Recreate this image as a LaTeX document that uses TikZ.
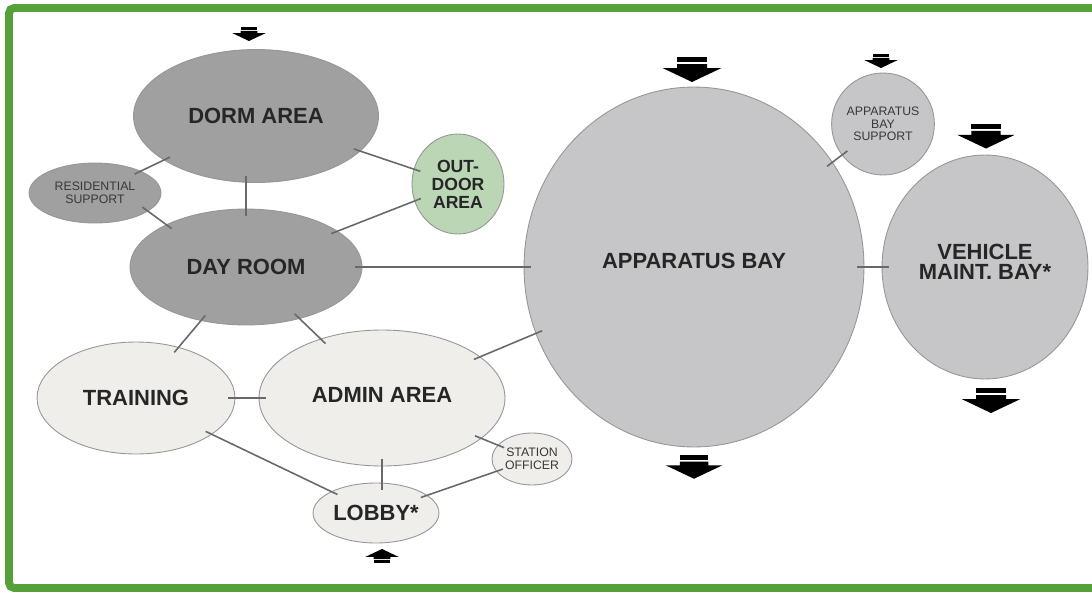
\documentclass[tikz,border=0pt]{standalone}
\usepackage{fontspec}
\setmainfont{Liberation Sans}
\usetikzlibrary{shapes.geometric}

\definecolor{framegreen}{RGB}{86,160,58}
\definecolor{darkroom}{RGB}{160,160,160}
\definecolor{bayroom}{RGB}{198,198,200}
\definecolor{outroom}{RGB}{186,214,180}
\definecolor{lightroom}{RGB}{239,238,234}
\definecolor{rimgray}{RGB}{150,150,150}
\definecolor{linkgray}{RGB}{105,105,105}

\tikzset{
  room/.style={ellipse, draw=rimgray, line width=0.5pt, inner sep=0pt, align=center, text=black!85},
  bigtext/.style={font=\bfseries\fontsize{12.5}{14}\selectfont},
  smalltext/.style={font=\fontsize{7}{7.2}\selectfont, text=black!78},
  link/.style={draw=linkgray, line width=0.9pt, shorten <=-4pt, shorten >=-4pt},
  blockarrow/.pic={
    \fill (-15,0) rectangle (15,5);
    \fill (-15,7) -- (15,7) -- (15,11) -- (29.5,11) -- (0,25) -- (-29.5,11) -- (-15,11) -- cycle;
  }
}

\begin{document}
\begin{tikzpicture}[x=0.02cm,y=-0.02cm]
\useasboundingbox (0,0) rectangle (1092,592);
\clip (0,0) rectangle (1092,592);

% frame
\draw [framegreen, line width=4.5pt, rounded corners=3pt] (9,8) rectangle (1110,588);

% living side
\node [room, fill=darkroom, bigtext, minimum width=4.9cm, minimum height=2.66cm] (dorm) at (256,116) {DORM AREA};
\node [room, fill=darkroom, smalltext, minimum width=2.64cm, minimum height=1.2cm] (res) at (95,193) {RESIDENTIAL\\SUPPORT};
\node [room, fill=outroom, font=\bfseries\fontsize{10}{10.2}\selectfont, minimum width=1.84cm, minimum height=2cm] (outdoor) at (458,184) {OUT-\\DOOR\\AREA};
\node [room, fill=darkroom, bigtext, minimum width=4.64cm, minimum height=2.32cm] (day) at (246,267) {DAY ROOM};

% public side
\node [room, fill=lightroom, bigtext, minimum width=3.96cm, minimum height=2.24cm] (training) at (136,398) {TRAINING};
\node [room, fill=lightroom, bigtext, text depth=3pt, minimum width=4.92cm, minimum height=2.72cm] (admin) at (382,398) {ADMIN AREA};
\node [room, fill=lightroom, smalltext, minimum width=1.6cm, minimum height=1.04cm] (station) at (532,459) {STATION\\OFFICER};
\node [room, fill=lightroom, bigtext, minimum width=2.52cm, minimum height=1.2cm] (lobby) at (376,513) {LOBBY*};

% apparatus side
\node [room, fill=bayroom, bigtext, text depth=7pt, minimum width=6.8cm, minimum height=7.2cm] (bay) at (694,267) {APPARATUS BAY};
\node [room, fill=bayroom, smalltext, minimum width=1.92cm, minimum height=2.04cm] (support) at (883,124) {APPARATUS\\BAY\\SUPPORT};
\node [room, fill=bayroom, font=\bfseries\fontsize{12.5}{11.3}\selectfont, text depth=6pt, minimum width=4.12cm, minimum height=4.48cm] (vehicle) at (985,267) {VEHICLE\\MAINT. BAY*};

% links
\draw [link] (day.north |- dorm.south) -- (day.north);
\draw [link] (dorm) -- (res);
\draw [link] (res.-19) -- (day.152);
\draw [link] (dorm) -- (outdoor);
\draw [link] (day) -- (outdoor);
\draw [link] (day) -- (bay);
\draw [link] (day) -- (training);
\draw [link] (day) -- (admin);
\draw [link] (training) -- (admin);
\draw [link] (training) -- (lobby);
\draw [link] (admin.south) -- (admin.south |- lobby.north);
\draw [link] (admin) -- (station);
\draw [link] (station) -- (lobby);
\draw [link] (admin) -- (bay);
\draw [link] (bay) -- (support);
\draw [link] (bay) -- (vehicle);

% access arrows
\pic [scale=0.56] at (249,27) {blockarrow};
\pic at (692,57) {blockarrow};
\pic [scale=0.56] at (881,54) {blockarrow};
\pic [scale=0.98] at (986,124) {blockarrow};
\pic at (991,388) {blockarrow};
\pic [scale=0.95] at (694,455) {blockarrow};
\pic [scale=0.56, rotate=180] at (382,563) {blockarrow};

\end{tikzpicture}
\end{document}
